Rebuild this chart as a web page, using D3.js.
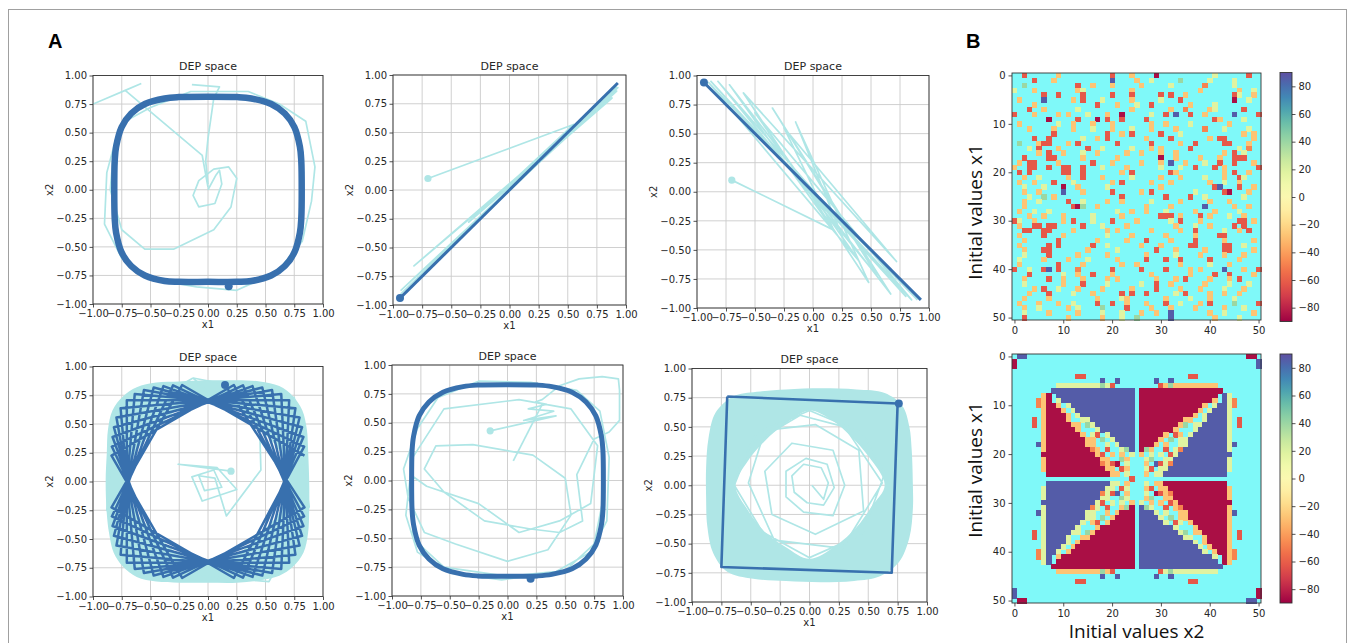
<!DOCTYPE html>
<html><head><meta charset="utf-8">
<script src="https://cdn.jsdelivr.net/npm/d3@7/dist/d3.min.js"></script>
<style>body{margin:0;background:#fff}svg{display:block}</style>
</head><body>
<svg id="fig" width="1357" height="643"></svg>
<script>
// ================= DATA =================
const depTicks = [-1,-0.75,-0.5,-0.25,0,0.25,0.5,0.75,1];
const heatTicks = [0,10,20,30,40,50];
const cbarTicks = [-80,-60,-40,-20,0,20,40,60,80];
const cbarDomain = [-90,90];
const panelTitle = "DEP space";
const rowLabel = "Initial values x1";
const colLabel = "Initial values x2";

// panel 1
const p1Light = [
 [[-1.0,0.75],[-0.72,0.87],[-0.58,0.93]],
 [[-0.72,0.87],[-0.05,0.3],[0.0,0.02]],
 [[-0.14,0.92],[0.1,0.9],[0.05,0.8],[0.0,0.45],[-0.02,0.25],[0.0,0.05]],
 [[0.0,0.0],[0.07,0.13],[0.1,0.17],[0.12,0.05],[0.06,-0.12],[-0.08,-0.15],[-0.13,-0.05],[-0.08,0.08],[0.05,0.18],[0.18,0.2],[0.25,0.1],[0.2,-0.15],[0.05,-0.35],[-0.3,-0.52],[-0.55,-0.52],[-0.75,-0.35],[-0.85,0.0],[-0.82,0.35],[-0.72,0.6],[-0.5,0.72],[-0.15,0.86],[0.35,0.86],[0.62,0.75],[0.85,0.6],[0.93,0.2],[0.9,-0.1],[0.82,-0.45],[0.6,-0.72],[0.25,-0.88],[-0.1,-0.85],[-0.5,-0.78],[-0.75,-0.6],[-0.9,-0.3],[-0.88,0.15],[-0.8,0.45]]
];
const p1Cycle = [[0.815,0],[0.811,0.255],[0.799,0.377],[0.751,0.549],[0.668,0.668],[0.549,0.751],[0.377,0.799],[0.255,0.811],[0,0.815],[-0.255,0.811],[-0.377,0.799],[-0.549,0.751],[-0.668,0.668],[-0.751,0.549],[-0.799,0.377],[-0.811,0.255],[-0.815,0],[-0.811,-0.255],[-0.799,-0.377],[-0.751,-0.549],[-0.668,-0.668],[-0.549,-0.751],[-0.377,-0.799],[-0.255,-0.806],[0,-0.806],[0.255,-0.806],[0.377,-0.799],[0.549,-0.751],[0.668,-0.668],[0.751,-0.549],[0.799,-0.377],[0.811,-0.255]];
const p1End = [0.18,-0.845];

// panel 2
const p2Light = [[[-0.7,0.1],[0.55,0.57],[-0.35,-0.28],[0.88,0.8],[-0.82,-0.66],[0.92,0.86],[-0.93,-0.87],[0.93,0.89],[-0.93,-0.9],[0.92,0.9]]];
const p2Line = [[-0.94,-0.94],[0.93,0.93]];
const p2Start = [-0.7,0.1];
const p2End = [-0.94,-0.94];

// panel 3
const p3Light = [[[-0.7,0.1],[0.18,-0.33],[-0.25,0.55],[0.72,-0.6],[-0.6,0.85],[0.48,-0.78],[-0.15,0.6],[0.3,-0.5],[-0.72,0.92],[0.67,-0.88],[-0.35,0.72],[0.55,-0.72],[-0.82,0.95],[0.8,-0.9],[-0.88,0.95],[0.85,-0.93],[-0.5,0.68],[0.4,-0.6],[-0.9,0.94],[0.9,-0.93]]];
const p3Line = [[-0.94,0.94],[0.93,-0.93]];
const p3Start = [-0.7,0.1];
const p3End = [-0.94,0.94];

// panel 4
const p4BandOuter = [[0.88,0],[0.87,0.28],[0.86,0.45],[0.82,0.62],[0.74,0.74],[0.62,0.83],[0.45,0.87],[0.25,0.88],[0,0.88],[-0.25,0.87],[-0.45,0.86],[-0.62,0.82],[-0.74,0.74],[-0.83,0.62],[-0.87,0.45],[-0.88,0.25],[-0.89,0],[-0.88,-0.28],[-0.86,-0.45],[-0.82,-0.62],[-0.74,-0.74],[-0.62,-0.83],[-0.45,-0.87],[-0.25,-0.88],[0,-0.88],[0.25,-0.88],[0.45,-0.86],[0.62,-0.82],[0.74,-0.74],[0.83,-0.62],[0.87,-0.45],[0.88,-0.25]];
const p4BandInner = [[0.7,0],[0.62,0.27],[0.45,0.45],[0.27,0.62],[0,0.7],[-0.27,0.62],[-0.45,0.45],[-0.62,0.27],[-0.7,0],[-0.62,-0.27],[-0.45,-0.45],[-0.27,-0.62],[0,-0.7],[0.27,-0.62],[0.45,-0.45],[0.62,-0.27]];
const p4Light = [
 [[-0.13,0.9],[0.75,0.73],[0.88,-0.22],[0.53,-0.87],[-0.32,-0.8],[-0.88,-0.25],[-0.82,0.5],[-0.13,0.9]],
 [[0.2,0.09],[-0.26,0.15],[0.08,0.12],[0.25,-0.07],[-0.05,-0.17],[-0.14,0.04],[0.05,0.1],[0.12,-0.05],[-0.03,-0.08],[-0.08,0.05],[0.06,0.03],[0.16,-0.3],[0.46,0.1],[0.45,0.45],[0.17,0.63],[-0.13,0.9]]
];
const p4Squares = [
 [0.839,0.225],[-0.225,0.839],[-0.839,-0.225],[0.225,-0.839],
 [0.836,0.304],[-0.304,0.836],[-0.836,-0.304],[0.304,-0.836],
 [0.830,0.387],[-0.387,0.830],[-0.830,-0.387],[0.387,-0.830],
 [0.818,0.472],[-0.472,0.818],[-0.818,-0.472],[0.472,-0.818],
 [0.796,0.557],[-0.557,0.796],[-0.796,-0.557],[0.557,-0.796],
 [0.760,0.637],[-0.637,0.760],[-0.760,-0.637],[0.637,-0.760],
 [0.706,0.706],[-0.706,0.706],[-0.706,-0.706],[0.706,-0.706],
 [0.637,0.760],[-0.760,0.637],[-0.637,-0.760],[0.760,-0.637],
 [0.557,0.796],[-0.796,0.557],[-0.557,-0.796],[0.796,-0.557],
 [0.472,0.818],[-0.818,0.472],[-0.472,-0.818],[0.818,-0.472],
 [0.387,0.830],[-0.830,0.387],[-0.387,-0.830],[0.830,-0.387],
 [0.304,0.836],[-0.836,0.304],[-0.304,-0.836],[0.836,-0.304],
 [0.225,0.839],[-0.839,0.225],[-0.225,-0.839],[0.839,-0.225],
 [0.148,0.84]
];
const p4Start = [0.2,0.09];
const p4End = [0.148,0.84];

// panel 5
const p5Light = [
 [[-0.15,0.43],[0.42,0.56],[0.14,0.52],[0.4,0.6],[0.18,0.62],[0.34,0.66],[0.24,0.68],[0.3,0.7],[0.45,0.82],[0.62,0.88],[0.82,0.9],[0.96,0.88],[0.97,0.78],[0.97,0.52],[0.88,0.42],[0.75,0.36],[0.6,0.05],[0.65,-0.35],[0.45,-0.45],[0.2,-0.42],[-0.2,-0.35],[-0.55,-0.1],[-0.72,0.1],[-0.62,0.3],[-0.3,0.31],[0.22,0.22],[0.5,0.02],[0.55,-0.3],[0.35,-0.6],[0.0,-0.7],[-0.45,-0.55],[-0.72,-0.45],[-0.86,-0.15],[-0.9,0.1],[-0.78,0.45],[-0.6,0.72],[-0.25,0.86],[0.2,0.85],[0.6,0.78],[0.8,0.6],[0.88,0.2],[0.86,-0.35],[0.72,-0.62],[0.4,-0.8],[-0.05,-0.86],[-0.5,-0.8],[-0.78,-0.62],[-0.88,-0.3],[-0.84,0.05],[-0.7,-0.05],[-0.25,-0.2],[0.1,-0.45],[0.45,-0.35],[0.72,-0.2],[0.78,0.3],[0.55,0.62],[0.1,0.7],[-0.55,0.62],[-0.82,0.2],[-0.82,-0.5],[-0.55,-0.75],[0.0,-0.83],[0.5,-0.78],[0.75,-0.55],[0.84,-0.1],[0.82,0.4]],
 [[0.05,0.17],[0.3,0.66]]
];
const p5Cycle = [[0.83,0],[0.826,0.26],[0.813,0.384],[0.765,0.559],[0.68,0.68],[0.559,0.765],[0.384,0.813],[0.26,0.826],[0,0.83],[-0.26,0.826],[-0.384,0.813],[-0.559,0.765],[-0.68,0.68],[-0.765,0.559],[-0.813,0.384],[-0.826,0.26],[-0.83,0],[-0.826,-0.26],[-0.813,-0.384],[-0.765,-0.559],[-0.68,-0.68],[-0.559,-0.765],[-0.384,-0.813],[-0.26,-0.826],[0,-0.83],[0.26,-0.826],[0.384,-0.813],[0.559,-0.765],[0.68,-0.68],[0.765,-0.559],[0.813,-0.384],[0.826,-0.26]];
const p5Start = [-0.15,0.43];
const p5End = [0.2,-0.85];

// panel 6
const p6BandOuter = [[0.88,0],[0.87,0.3],[0.85,0.5],[0.79,0.68],[0.64,0.79],[0.4,0.82],[0.1,0.83],[-0.2,0.82],[-0.45,0.8],[-0.65,0.76],[-0.8,0.62],[-0.86,0.4],[-0.88,0.15],[-0.88,-0.1],[-0.87,-0.35],[-0.82,-0.58],[-0.7,-0.74],[-0.48,-0.8],[-0.2,-0.82],[0.1,-0.83],[0.38,-0.82],[0.6,-0.78],[0.76,-0.66],[0.85,-0.45],[0.88,-0.2]];
const p6BandInner = [[0.64,0],[0.5,0.25],[0.35,0.42],[0.2,0.55],[0,0.64],[-0.2,0.53],[-0.38,0.38],[-0.53,0.2],[-0.63,0],[-0.52,-0.22],[-0.38,-0.4],[-0.2,-0.53],[0,-0.63],[0.22,-0.52],[0.4,-0.36],[0.53,-0.18]];
const p6Light = [[[0.02,0.0],[0.12,-0.12],[0.16,0.02],[0.1,0.15],[-0.05,0.18],[-0.15,0.08],[-0.13,-0.06],[-0.02,-0.15],[0.12,-0.17],[0.21,-0.02],[0.15,0.18],[-0.03,0.23],[-0.2,0.12],[-0.2,-0.1],[-0.05,-0.23],[0.2,-0.26],[0.3,0.0],[0.2,0.3],[-0.15,0.36],[-0.38,0.12],[-0.32,-0.25],[0.05,-0.42],[0.46,-0.22],[0.42,0.3],[0.05,0.52],[-0.38,0.47],[-0.52,0.02],[-0.3,-0.47],[0.28,-0.54],[0.62,0.02],[0.3,0.5],[-0.08,0.6],[-0.5,0.35],[-0.64,0.0],[-0.4,-0.4],[0.0,-0.62],[0.45,-0.42],[0.64,0.1],[0.45,0.45],[0.0,0.64],[-0.45,0.45],[-0.64,0.05]]];
const p6Square = [[-0.7,0.76],[0.75,0.7],[0.7,-0.75],[-0.75,-0.7],[-0.7,0.76]];
const p6End = [0.76,0.7];

// heatmap cell codes -> value (cyan '.' = no value)
const cellCodes = {y:-28,l:18,r:-62,o:-48,R:-86,P:86,g:40,b:65};
const heat1Rows = [
"..r......y..........r...y....R...........l......r..",
"....r...y...........P....y..l.....g.....l....l.....",
"..g..........r..y...y.....y.....l......o.....l.....",
"l...y........yl.........y.............y.......y..l.",
"......r..r....r.....r...r.....r.r..y.........rl..y.",
".y....P.....y.r...l.....y.....l...r..........R..l..",
"....y............r...y...l..r.......y....l.........",
"...r..y......l..........y.......y..o....yl.....r...",
"r...y....y.y...l...y..R.....l..r.P..r..y.....P....r",
".......R.....r...R.r..r....r.............ry....l...",
".y.......l..y...y...y.......y..y....l.......y......",
"...y....y...y...l...y...l...y....y.....o...l....l..",
"........r..........r..y.r.....r...l............y.y.",
"....r..r......l..y.r.......y....r.......y.rr.....y.",
".g...yrr...y.r.......r......r.....y..r.....rr...y..",
"...l.r...y.....r..l.....l...y.y.....r.........l.o..",
".....y.r..y...l..y.....y..y...y..y.........y.r.l...",
"..r....rr.....y......y........R..y....y...y..rrr...",
".y.rr....y......r...y.....y...y.P..y...l..r..r...y.",
"y..rr..r..rr..r...l....y......l...l..r...r.y......r",
".r.r......rr..r.......y.r.......ry.........y.r..y..",
"..y..l.....y..r...y.....l.....y...y....l...y..rl...",
".y..y...r...l.......y.r.....y...y.......y..l..y....",
"..l...l...R..y.....l..........y..........rP...r..y.",
"..y..y....P...y.....r.....y.r........l.....rR...y..",
"...l..g.y.............r........r....r..l.......l...",
"..y..l.....r..l....y..y.....l.....y.....y...y......",
"..y.........rRg..y.........y....y......P.....y..y..",
".y..l..l.............l..y..y...l.....y...y....l....",
"...y..y...y.....l.....y.......rrr.y...r.y...l..y...",
"rl..y.....y.r...l...r....y......l.r...y.......rr.y.",
".y..rr.rr.....r...l....y.........y...l..y....r.r...",
"..rr..rr....y......y.y......y.....y..r.....l..y.r..",
".y....r...y........l....y......y.....y....rr.......",
"..y......r.......y.....y...r....y....r.....y.....y.",
".y.....r.r......r..l......y...y.....rr.....rr..l...",
"..y...rr.......y.....l.......r...y.....y...rr....y.",
"..l....r.....y.....y.......y.....l....y....y...y...",
".l....y....y...l.....y.....r...r..r.....r.....y....",
".y.......r....y.......y..y........y.....l...y......",
"r..l..rP.r...o......r.....r....r....y.y....P...y..r",
"...r......l..y..r...y.......y.......y....r..r....y.",
"..y....r..y...y....y.y.......y...y.r....y...y.r....",
"..l.......y...r....l......l..r..y......y....l...l..",
"....y.r..l...y....y.....y....r....y...y....l...y...",
"...y...r....l...y.....r.r..r.....l.r....y..y..y....",
"..y....y.........y....ly.......y....l...y....l.....",
".y...y...y..l....r..r..y...y...r..l...y.r....g....r",
"..y..l.....y.l....g....r....y...y....y.....y...l...",
"..l....y.....y....l...l...y..y..P.......y..l.....y.",
"..r........y......y...l..g......P........y....l...."
];
// run-length rows ("16P" = 16 x 'P')
const heat2Rows = [
".2P45.2R.","R49.P","R49.P","51.","13.2r21.2r13.","18.P2.P7.P2.P18.",
"9.9lglr9.ryg9y9.","8.17P.17R8.","6.yR.16P.16R.Pl6.","5.oyR.l15P.15Ry.Plo5.",
"5.oyRRy.l13P.13Ry.lPPlo5.","6.yRRRy.l12P.12Ry.lPPPl6.","6.y4Ry.l11P.11Ry.l4Pl6.",
"4.r.y4Ry..ll9P.9Ryy..l4Pl.r4.","4.r.y5Ryy.gl8P.8Ryg.ll5Pl.r4.","6.y6Ry...l7P.7Ry...l6Pl6.",
"6.y7Ry.lr.l5P.5Ry.ry.l7Pl6.","6.y8Ryy.g.l4P.4Ry.g.ll8Pl6.","5.Py8Ryy..l.l3P.3Ry.y..ll8PlP5.",
"6.y9Roy.r..lgP.Rgy..r.lo9Pl6.","6.11Ryr.y.y.l.y.l.l.rl11P6.","6.y11Ryy..gy...lg..ll11Pl6.",
"6.y11RoyrR.l...y.Prlo11Pl6.","6.y12Ryy.ry...lr.ll12Pl6.","7.13Ryy.l...y.ll13P7.",
"24.r26.",
"7.13Pll.y...l.yy13R7.","6.l12Pll.rl...yr.yy12Ry6.","6.l11PolrP.y...l.Rryo11Ry6.",
"6.l11Pll..gl...yg..yy11Ry6.","6.11Plr.l.l.y.l.y.y.ry11R6.","6.l9Pol.r..ygR.Pgl..r.yo9Ry6.",
"5.Pl8Pll..y.y3R.3Pl.l..yy8RyP5.","6.l8Pll.g.y4R.4Pl.g.yy8Ry6.","6.l7Pl.yr.y5R.5Pl.rl.y7Ry6.",
"6.l6Pl...y7R.7Pl...y6Ry6.","4.r.l5Pll.gy8R.8Plg.yy5Ry.r4.","4.r.l4Pl..yy9R.9Pll..y4Ry.r4.",
"6.l4Pl.y11R.11Pl.y4Ry6.","6.l3Pl.y12R.12Pl.y3Ry6.","5.olPPl.y13R.13Pl.yRRyo5.",
"5.olP.y15R.15Pl.Ryo5.","6.lP.16R.16P.Ry6.","8.17R.17P8.","9.9ygyr9.rlg9l9.",
"18.P2.P7.P2.P18.","13.2r21.2r13.","51.","P49.R","P49.R",".2R45.2P."
];

// ================= DRAW =================
const LIGHT = "#afe6e6", DARK = "#3870ae", CYAN = "#7ff9f9", INK = "#262626";
const FONT = "DejaVu Sans, sans-serif";
const svg = d3.select("#fig");
svg.append("rect").attr("x",8.5).attr("y",9.5).attr("width",1338).attr("height",660)
  .attr("fill","none").attr("stroke","#a0a0a0").attr("stroke-width",1);

function styleAxis(g){
  g.attr("font-family",FONT).attr("font-size",10);
  g.select(".domain").remove();
  g.selectAll("line").attr("stroke",INK).attr("stroke-width",0.8);
  g.selectAll("text").attr("fill",INK);
}

const panels = [
 {id:1,l:93,t:75.5,r:323,b:304, light:p1Light, cycle:p1Cycle, cycleW:6.5, end:p1End},
 {id:2,l:393,t:75,r:626,b:305, light:p2Light, dark:p2Line, darkW:3, start:p2Start, end:p2End},
 {id:3,l:697,t:75.5,r:929,b:308, light:p3Light, dark:p3Line, darkW:3, start:p3Start, end:p3End},
 {id:4,l:93,t:366.5,r:323,b:596.5, band:[p4BandOuter,p4BandInner], light:p4Light, dark:p4Squares, darkW:2.5, start:p4Start, end:p4End},
 {id:5,l:392,t:365,r:623,b:596, light:p5Light, cycle:p5Cycle, cycleW:5, start:p5Start, end:p5End},
 {id:6,l:692,t:368.5,r:927,b:602, band:[p6BandOuter,p6BandInner], light:p6Light, dark:p6Square, darkW:2.6, end:p6End}
];

panels.forEach(p=>{
  const x = d3.scaleLinear([-1,1],[p.l,p.r]);
  const y = d3.scaleLinear([-1,1],[p.b,p.t]);
  const g = svg.append("g");
  g.append("g").selectAll("line").data(depTicks).join("line")
    .attr("x1",d=>x(d)).attr("x2",d=>x(d)).attr("y1",p.t).attr("y2",p.b)
    .attr("stroke","#cbcbcb").attr("stroke-width",0.9);
  g.append("g").selectAll("line").data(depTicks).join("line")
    .attr("y1",d=>y(d)).attr("y2",d=>y(d)).attr("x1",p.l).attr("x2",p.r)
    .attr("stroke","#cbcbcb").attr("stroke-width",0.9);
  const cid = "clip"+p.id;
  svg.append("clipPath").attr("id",cid).append("rect")
    .attr("x",p.l).attr("y",p.t).attr("width",p.r-p.l).attr("height",p.b-p.t);
  const c = g.append("g").attr("clip-path",`url(#${cid})`);
  const line = d3.line().x(d=>x(d[0])).y(d=>y(d[1]));
  const loop = d3.line().x(d=>x(d[0])).y(d=>y(d[1])).curve(d3.curveCatmullRomClosed);
  if(p.band){
    c.append("path").attr("d",loop(p.band[0])+loop(p.band[1]))
      .attr("fill",LIGHT).attr("fill-rule","evenodd");
  }
  (p.light||[]).forEach(seg=>{
    c.append("path").attr("d",line(seg)).attr("fill","none")
      .attr("stroke",LIGHT).attr("stroke-width",1.7).attr("stroke-linejoin","round");
  });
  if(p.start) c.append("circle").attr("cx",x(p.start[0])).attr("cy",y(p.start[1])).attr("r",3.6).attr("fill",LIGHT);
  if(p.cycle){
    c.append("path").attr("d",loop(p.cycle)).attr("fill","none")
      .attr("stroke",DARK).attr("stroke-width",p.cycleW);
  }
  if(p.dark){
    c.append("path").attr("d",line(p.dark)).attr("fill","none")
      .attr("stroke",DARK).attr("stroke-width",p.darkW).attr("stroke-linejoin","round");
  }
  if(p.end) c.append("circle").attr("cx",x(p.end[0])).attr("cy",y(p.end[1])).attr("r",4).attr("fill",DARK);
  g.append("g").attr("transform",`translate(0,${p.b})`)
    .call(d3.axisBottom(x).tickValues(depTicks).tickFormat(d3.format(".2f")).tickSize(3.5).tickPadding(2.5))
    .call(styleAxis);
  g.append("g").attr("transform",`translate(${p.l},0)`)
    .call(d3.axisLeft(y).tickValues(depTicks).tickFormat(d3.format(".2f")).tickSize(3.5).tickPadding(2.5))
    .call(styleAxis);
  g.append("rect").attr("x",p.l).attr("y",p.t).attr("width",p.r-p.l).attr("height",p.b-p.t)
    .attr("fill","none").attr("stroke","#333").attr("stroke-width",0.9);
  g.append("text").attr("x",(p.l+p.r)/2).attr("y",p.t-5.5).attr("text-anchor","middle")
    .attr("font-family",FONT).attr("font-size",11).attr("fill",INK).text(panelTitle);
  g.append("text").attr("x",(p.l+p.r)/2).attr("y",p.b+24).attr("text-anchor","middle")
    .attr("font-family",FONT).attr("font-size",10).attr("fill",INK).text("x1");
  g.append("text").attr("transform",`translate(${p.l-40},${(p.t+p.b)/2}) rotate(-90)`)
    .attr("text-anchor","middle").attr("font-family",FONT).attr("font-size",10).attr("fill",INK).text("x2");
});

// heatmaps
function decode(s){
  let out="", n="";
  for(const ch of s){
    if(ch>="0" && ch<="9"){ n+=ch; }
    else { out += ch.repeat(n ? +n : 1); n=""; }
  }
  return out.padEnd(51,".").slice(0,51);
}
const color = d3.scaleSequential(d3.interpolateSpectral).domain(cbarDomain);
const defs = svg.append("defs");
const grad = defs.append("linearGradient").attr("id","cbgrad").attr("x1",0).attr("y1",0).attr("x2",0).attr("y2",1);
d3.range(0,1.0001,0.05).forEach(o=>{
  grad.append("stop").attr("offset",o).attr("stop-color",color(cbarDomain[1]-o*(cbarDomain[1]-cbarDomain[0])));
});

function drawHeat(rows, box, cb, labelY, showColLabel){
  const g = svg.append("g");
  const x = d3.scaleLinear([-0.5,50.5],[box.l,box.r]);
  const y = d3.scaleLinear([-0.5,50.5],[box.t,box.b]);
  g.append("rect").attr("x",box.l).attr("y",box.t).attr("width",box.r-box.l).attr("height",box.b-box.t).attr("fill",CYAN);
  const cells=[];
  rows.forEach((s,r)=>{
    const row = decode(s);
    for(let c=0;c<51;c++){ const ch=row[c]; if(ch in cellCodes) cells.push({r,c,v:cellCodes[ch]}); }
  });
  g.append("g").attr("shape-rendering","crispEdges").selectAll("rect").data(cells).join("rect")
    .attr("x",d=>x(d.c-0.5)).attr("y",d=>y(d.r-0.5))
    .attr("width",x(0.5)-x(-0.5)+0.6).attr("height",y(0.5)-y(-0.5)+0.6)
    .attr("fill",d=>color(d.v));
  g.append("g").attr("transform",`translate(0,${box.b})`)
    .call(d3.axisBottom(x).tickValues(heatTicks).tickSize(3.5).tickPadding(3)).call(styleAxis);
  g.append("g").attr("transform",`translate(${box.l},0)`)
    .call(d3.axisLeft(y).tickValues(heatTicks).tickSize(3.5).tickPadding(3)).call(styleAxis);
  g.append("rect").attr("x",box.l).attr("y",box.t).attr("width",box.r-box.l).attr("height",box.b-box.t)
    .attr("fill","none").attr("stroke","#333").attr("stroke-width",0.9);
  const cy = d3.scaleLinear(cbarDomain,[cb.b,cb.t]);
  g.append("rect").attr("x",cb.l).attr("y",cb.t).attr("width",cb.r-cb.l).attr("height",cb.b-cb.t)
    .attr("fill","url(#cbgrad)").attr("stroke","#333").attr("stroke-width",0.9);
  g.append("g").attr("transform",`translate(${cb.r},0)`)
    .call(d3.axisRight(cy).tickValues(cbarTicks).tickSize(3.5).tickPadding(3)).call(styleAxis);
  g.append("text").attr("transform",`translate(982,${labelY}) rotate(-90)`).attr("text-anchor","middle")
    .attr("font-family","Open Sans, sans-serif").attr("font-size",19).attr("fill","#111").text(rowLabel);
  if(showColLabel){
    g.append("text").attr("x",(box.l+box.r)/2).attr("y",638).attr("text-anchor","middle")
      .attr("font-family","Open Sans, sans-serif").attr("font-size",19).attr("fill","#111").text(colLabel);
  }
}
drawHeat(heat1Rows,{l:1012,t:73,r:1261,b:320},{l:1280,r:1292,t:72.5,b:321.5},212,false);
drawHeat(heat2Rows,{l:1012,t:354,r:1261,b:603},{l:1280,r:1292,t:354,b:603},470,true);

svg.append("text").attr("x",48).attr("y",48).attr("font-family","Liberation Sans, Arial, sans-serif")
  .attr("font-weight","bold").attr("font-size",20).attr("fill","#000").text("A");
svg.append("text").attr("x",966).attr("y",48).attr("font-family","Liberation Sans, Arial, sans-serif")
  .attr("font-weight","bold").attr("font-size",20).attr("fill","#000").text("B");
</script>
</body></html>
